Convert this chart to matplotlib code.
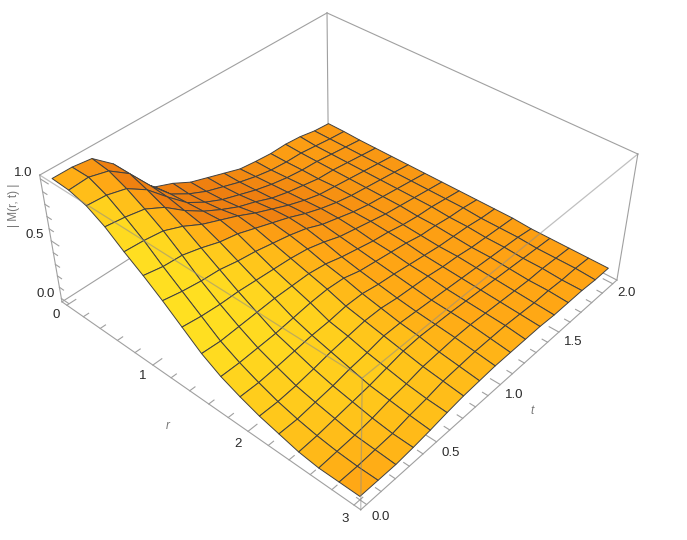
import numpy as np
import matplotlib
matplotlib.use('Agg')
import matplotlib.pyplot as plt
from matplotlib.colors import LinearSegmentedColormap
from mpl_toolkits.mplot3d import proj3d

plt.rcParams['font.family'] = ['Liberation Sans', 'DejaVu Sans']

# mesh positions of the surface
r_mesh = np.linspace(0, 3, 17)
t_mesh = np.linspace(0, 2, 17)

z_rows = [
    [1.0, .99, .95, .87, .76, .66, .55, .43, .31, .22, .155, .10, .06, .02, 0, 0, 0],
    [1.0, 1.0, .94, .85, .75, .63, .52, .41, .30, .22, .155, .10, .06, .03, .01, 0, 0],
    [.98, .96, .90, .82, .73, .62, .50, .40, .31, .23, .17, .115, .08, .05, .02, .01, 0],
    [.85, .85, .80, .74, .67, .58, .49, .40, .32, .24, .19, .14, .10, .07, .04, .02, .015],
    [.62, .66, .65, .62, .59, .53, .46, .39, .33, .26, .21, .17, .13, .09, .07, .05, .035],
    [.48, .50, .51, .52, .53, .50, .44, .38, .33, .28, .22, .19, .15, .12, .09, .07, .06],
    [.42, .41, .42, .44, .47, .45, .41, .37, .33, .29, .24, .21, .18, .15, .12, .10, .08],
    [.34, .34, .35, .37, .40, .40, .38, .35, .31, .28, .24, .21, .18, .16, .13, .11, .09],
    [.29, .29, .30, .32, .34, .35, .34, .31, .27, .24, .215, .19, .17, .155, .14, .12, .10],
    [.24, .24, .25, .26, .28, .29, .28, .26, .24, .22, .20, .18, .16, .15, .14, .12, .10],
    [.19, .20, .21, .22, .23, .24, .24, .23, .21, .20, .18, .17, .15, .14, .13, .12, .10],
    [.17, .17, .18, .19, .19, .20, .20, .20, .19, .18, .16, .15, .14, .13, .12, .11, .10],
    [.155, .155, .16, .16, .17, .17, .17, .17, .16, .15, .14, .14, .13, .12, .11, .10, .09],
    [.155, .15, .15, .15, .15, .15, .15, .15, .14, .14, .13, .12, .12, .11, .10, .10, .09],
    [.14, .13, .13, .13, .13, .13, .13, .13, .13, .12, .12, .11, .11, .10, .10, .09, .09],
    [.11, .11, .11, .11, .11, .11, .11, .11, .11, .11, .10, .10, .10, .09, .09, .09, .08],
    [.095, .095, .09, .09, .09, .09, .09, .09, .09, .09, .09, .09, .08, .08, .08, .08, .08],
]

r_ticks = [0, 1, 2, 3]
t_ticks = [0.0, 0.5, 1.0, 1.5, 2.0]
z_ticks = [0.0, 0.5, 1.0]

r_lim = (-0.06, 3.06)
t_lim = (-0.04, 2.04)
z_lim = (-0.03, 1.03)

R, T = np.meshgrid(r_mesh, t_mesh)
Z = np.array(z_rows)

# shading per cell from the slopes, the original has yellow on faces turned to the viewer
dzdr = np.diff(Z, axis=1)[:-1, :] / (r_mesh[1] - r_mesh[0])
dzdt = np.diff(Z, axis=0)[:, :-1] / (t_mesh[1] - t_mesh[0])
shade = 0.35 - 1.2 * dzdr + 0.7 * dzdt
# the reference shades smoothly, so even out the cell to cell jumps
pad = np.pad(shade, 1, mode='edge')
shade = sum(pad[1 + a:pad.shape[0] - 1 + a, 1 + b:pad.shape[1] - 1 + b]
            for a in (-1, 0, 1) for b in (-1, 0, 1)) / 9
shade = np.clip(shade, 0, 1)
cmap = LinearSegmentedColormap.from_list(
    'warm', [(0, '#ee7f10'), (.35, '#ffa414'), (.7, '#ffcc1c'), (1, '#ffe322')])
colors = np.zeros(Z.shape + (4,))
colors[:-1, :-1] = cmap(shade)

fig = plt.figure(figsize=(6.87, 5.40), dpi=100)
ax = fig.add_axes([-11.03 / 687, -0.136 + 30.71 / 540, 1, 1.272], projection='3d', computed_zorder=False)
ax.set_proj_type('persp', focal_length=0.3678)
ax.view_init(elev=39.06, azim=-48.2, roll=0.116)
ax.set_box_aspect((1, 1, 0.3986), zoom=0.8467)
ax.set_xlim(*r_lim, view_margin=0)
ax.set_ylim(*t_lim, view_margin=0)
ax.set_zlim(*z_lim, view_margin=0)
ax.set_axis_off()

box = '#a0a0a0'
x0, x1 = r_lim
y0, y1 = t_lim
z0, z1 = z_lim


def edge(a, b, **kw):
    ax.plot([a[0], b[0]], [a[1], b[1]], [a[2], b[2]], **kw)


def label(x, y, z, s, **kw):
    # plain 2D text at the projected point
    xs, ys, _ = proj3d.proj_transform(x, y, z, ax.get_proj())
    ax.text2D(xs, ys, s, transform=ax.transData, **kw)


# back of the box, under the surface
back = dict(color=box, lw=0.8, zorder=1)
edge((x0, y0, z0), (x1, y0, z0), **back)
edge((x1, y0, z0), (x1, y1, z0), **back)
edge((x0, y0, z0), (x0, y1, z0), **back)
edge((x0, y1, z0), (x1, y1, z0), **back)
edge((x0, y0, z0), (x0, y0, z1), **back)
edge((x1, y1, z0), (x1, y1, z1), **back)
edge((x0, y1, z0), (x0, y1, z1), **back)
edge((x0, y0, z1), (x0, y1, z1), **back)
edge((x0, y1, z1), (x1, y1, z1), **back)

# ticks
for v in np.arange(0, 3.01, 0.2):
    major = abs(v - round(v)) < 1e-6
    edge((v, y0, z0), (v, y0 + (0.06 if major else 0.035), z0), **back)
for v in np.arange(0, 2.01, 0.1):
    major = abs(v * 2 - round(v * 2)) < 1e-6
    edge((x1, v, z0), (x1 - (0.09 if major else 0.05), v, z0), **back)
for v in np.arange(0, 1.01, 0.1):
    major = abs(v * 2 - round(v * 2)) < 1e-6
    edge((x0, y0, v), (x0 + (0.09 if major else 0.05), y0, v), **back)

surf = ax.plot_surface(R, T, Z, facecolors=colors, rstride=1, cstride=1,
                       shade=False, antialiased=True, linewidth=0.7, zorder=2)
surf.set_edgecolor('#404040')

# front of the box, drawn over the surface
front = dict(color='#8c8c8c', lw=0.9, alpha=0.55, zorder=3)
edge((x0, y0, z1), (x1, y0, z1), **front)
edge((x1, y0, z1), (x1, y1, z1), **front)
edge((x1, y0, z0), (x1, y0, z1), **front)

txt = dict(fontsize=9.5, color='#2a2a2a', ha='center', va='center', zorder=4)
for v in r_ticks:
    label(v + 0.03, y0 - 0.085, z0, str(v), **txt)
for v in t_ticks:
    label(x1 + 0.14, v - 0.011, z0, f'{v:.1f}', **txt)
for v in z_ticks:
    label(x0 - 0.07, y0 - 0.06, v + 0.06, f'{v:.1f}', **txt)

lab = dict(fontsize=8.5, color='#777777', ha='center', va='center')
label(1.54, y0 - 0.23, z0, 'r', style='italic', **lab)
label(x1 + 0.33, 0.958, z0, 't', style='italic', **lab)
fig.text(13.5 / 687, 1 - 205 / 540, '| M(r, t) |', rotation=90, **lab)

fig.savefig('out.png', dpi=100)
